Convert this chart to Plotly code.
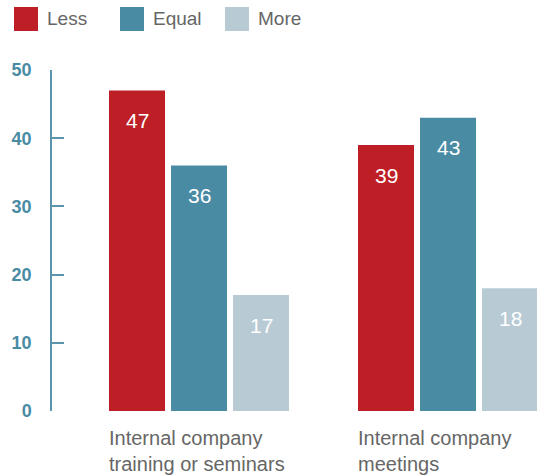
import plotly.graph_objects as go

# Survey data
categories = ["Internal company<br>training or seminars", "Internal company<br>meetings"]
series_names = ["Less", "Equal", "More"]
less_vals = [47, 39]
equal_vals = [36, 43]
more_vals = [17, 18]
y_ticks = [0, 10, 20, 30, 40, 50]

colors = ["#be1e25", "#4a8ba4", "#b8cbd5"]
text_gray = "#666666"
axis_teal = "#5b95ad"
FONT = "Liberation Sans, Arial, sans-serif"

W, H = 537, 475
M_L, M_R, M_T, M_B = 52, 0, 70, 64
PW, PH = W - M_L - M_R, H - M_T - M_B


def px_x(x):
    return (x - M_L) / PW


def px_y(y):
    return (H - M_B - y) / PH


fig = go.Figure()
series_vals = [less_vals, equal_vals, more_vals]
for name, vals, col in zip(series_names, series_vals, colors):
    fig.add_trace(go.Bar(
        x=categories, y=vals, name=name,
        marker=dict(color=col, line=dict(width=0)),
        showlegend=False, hoverinfo="skip",
    ))

# value labels inside bar tops
for i, vals in enumerate(series_vals):
    for cat, v in zip(categories, vals):
        fig.add_annotation(
            x=cat, y=v, xref="x", yref="y", text=str(v), showarrow=False,
            xshift=(i - 1) * 62, yshift=-30,
            font=dict(family=FONT, size=21, color="white"),
        )

# category labels, left-aligned under each group
for cat in categories:
    fig.add_annotation(
        x=cat, y=0, xref="x", yref="paper", text=cat, showarrow=False,
        xanchor="left", yanchor="top", align="left", xshift=-92, yshift=-14,
        font=dict(family=FONT, size=20, color=text_gray),
    )

# legend drawn as swatches + labels
legend_x = [14, 120, 225]
for name, col, lx in zip(series_names, colors, legend_x):
    fig.add_shape(
        type="rect", xref="paper", yref="paper",
        x0=px_x(lx), x1=px_x(lx + 24), y0=px_y(31), y1=px_y(7),
        fillcolor=col, line=dict(width=0),
    )
    fig.add_annotation(
        x=px_x(lx + 31), y=px_y(19), xref="paper", yref="paper",
        text=name, showarrow=False, xanchor="left", yanchor="middle",
        font=dict(family=FONT, size=19, color=text_gray),
    )

fig.update_layout(
    width=W, height=H,
    margin=dict(l=M_L, r=M_R, t=M_T, b=M_B, pad=0),
    paper_bgcolor="white", plot_bgcolor="white",
    barmode="group", bargap=0.253, bargroupgap=0.097,
    font=dict(family=FONT),
    xaxis=dict(
        type="category", range=[-0.5904, 1.3574],
        showticklabels=False, showline=False, showgrid=False,
        zeroline=False, ticks="",
    ),
    yaxis=dict(
        range=[0, 50], tickvals=y_ticks,
        showline=True, linecolor=axis_teal, linewidth=1.5,
        ticks="inside", ticklen=12, tickwidth=1.5, tickcolor=axis_teal,
        showgrid=False, zeroline=False, ticklabelstandoff=15,
        tickfont=dict(family=FONT, size=18, color="#4a8ba4", weight="bold"),
    ),
)

fig.write_html("out.html")
